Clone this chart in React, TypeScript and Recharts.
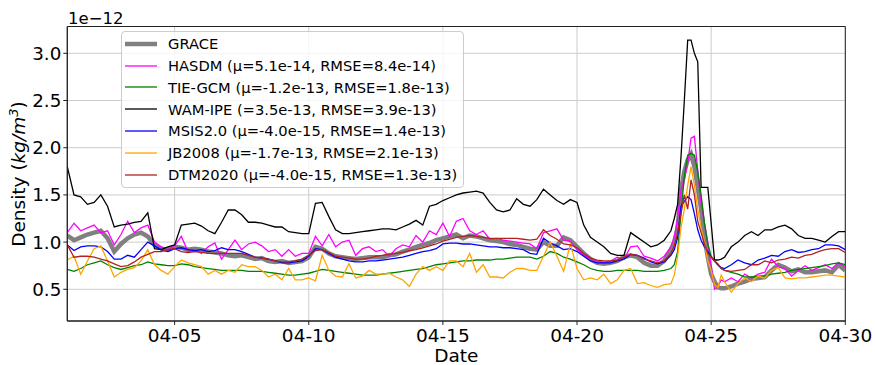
import React from 'react';
import {
  LineChart,
  Line,
  XAxis,
  YAxis,
  CartesianGrid,
  Legend,
  Label,
  ReferenceArea
} from 'recharts';

// time in days since 04-01 00:00 (finer steps around the storm peak)
const days = [
  0, 0.25, 0.5, 0.75, 1, 1.25, 1.5, 1.75, 2, 2.25, 2.5, 2.75, 3, 3.25, 3.5, 3.75, 4, 4.25, 4.5, 4.75, 5, 5.25, 5.5, 5.75, 6,
  6.25, 6.5, 6.75, 7, 7.25, 7.5, 7.75, 8, 8.25, 8.5, 8.75, 9, 9.25, 9.5, 9.75, 10, 10.25, 10.5, 10.75, 11, 11.25, 11.5, 11.75, 12,
  12.25, 12.5, 12.75, 13, 13.25, 13.5, 13.75, 14, 14.25, 14.5, 14.75, 15, 15.25, 15.5, 15.75, 16, 16.25, 16.5, 16.75, 17, 17.25, 17.5, 17.75, 18,
  18.25, 18.5, 18.75, 19, 19.25, 19.5, 19.75, 20, 20.25, 20.5, 20.75, 21, 21.25, 21.5, 21.75, 22, 22.25, 22.5,
  22.625, 22.75, 22.875, 23, 23.125, 23.25, 23.375, 23.5, 23.625, 23.75, 23.875, 24, 24.125, 24.25, 24.375, 24.5,
  24.75, 25, 25.25, 25.5, 25.75, 26, 26.25, 26.5, 26.75, 27, 27.25, 27.5, 27.75, 28, 28.25, 28.5, 28.75, 29
];

// density, units of 1e-12 kg/m^3
const grace = [
  1.07, 1.02, 1.05, 1.08, 1.10, 1.12, 1.04, 0.90, 0.98, 1.04, 1.08, 1.10, 1.06, 0.97, 0.93, 0.92, 0.95, 0.94, 0.92, 0.93, 0.92, 0.90, 0.89, 0.88, 0.86,
  0.85, 0.86, 0.84, 0.82, 0.83, 0.80, 0.79, 0.80, 0.78, 0.79, 0.80, 0.84, 0.95, 0.93, 0.88, 0.85, 0.84, 0.83, 0.82, 0.83, 0.84, 0.84, 0.84, 0.86,
  0.87, 0.90, 0.92, 0.95, 0.97, 0.99, 1.02, 1.04, 1.06, 1.08, 1.04, 1.07, 1.06, 1.04, 1.02, 1.01, 1.00, 0.98, 0.97, 0.95, 0.93, 0.92, 1.00, 0.96,
  0.96, 1.05, 1.02, 0.95, 0.88, 0.82, 0.78, 0.77, 0.78, 0.80, 0.84, 0.86, 0.84, 0.78, 0.75, 0.75, 0.80, 0.92,
  1.00, 1.15, 1.55, 1.75, 1.87, 1.93, 1.80, 1.58, 1.35, 1.05, 0.84, 0.66, 0.58, 0.52, 0.51, 0.51,
  0.53, 0.56, 0.58, 0.61, 0.62, 0.63, 0.70, 0.76, 0.73, 0.69, 0.71, 0.68, 0.68, 0.69, 0.70, 0.68, 0.76, 0.70
];

const hasdm = [
  1.10, 1.20, 1.12, 1.15, 1.18, 1.10, 1.12, 0.97, 1.08, 1.22, 1.10, 1.15, 1.18, 1.00, 0.95, 0.92, 0.96, 1.06, 0.90, 0.92, 0.88, 0.95, 0.99, 0.82, 0.92,
  1.02, 0.92, 0.98, 1.00, 0.96, 0.90, 0.92, 0.85, 0.92, 0.85, 0.88, 0.88, 1.06, 0.96, 1.08, 0.95, 1.00, 1.02, 0.86, 0.93, 0.95, 0.90, 0.92, 0.85,
  0.93, 0.97, 0.95, 1.07, 1.00, 1.12, 1.08, 1.20, 1.06, 1.22, 1.25, 1.12, 1.08, 1.12, 1.03, 1.04, 1.02, 1.01, 1.00, 0.99, 0.98, 0.93, 1.10, 1.12,
  1.14, 1.02, 1.01, 0.92, 0.86, 0.82, 0.80, 0.78, 0.80, 0.84, 0.82, 0.95, 0.96, 0.85, 0.83, 0.80, 0.85, 0.95,
  1.05, 1.25, 1.55, 1.66, 1.84, 2.10, 2.12, 1.76, 1.41, 1.20, 1.00, 0.75, 0.50, 0.53, 0.60, 0.58,
  0.62, 0.58, 0.66, 0.62, 0.66, 0.68, 0.82, 0.74, 0.72, 0.64, 0.70, 0.75, 0.70, 0.73, 0.76, 0.72, 0.78, 0.74
];

const tiegcm = [
  0.71, 0.69, 0.72, 0.76, 0.78, 0.80, 0.76, 0.73, 0.71, 0.73, 0.75, 0.76, 0.79, 0.77, 0.76, 0.75, 0.75, 0.77, 0.76, 0.74, 0.73, 0.72, 0.71, 0.70, 0.70,
  0.70, 0.70, 0.69, 0.69, 0.69, 0.68, 0.67, 0.66, 0.65, 0.65, 0.66, 0.67, 0.69, 0.71, 0.70, 0.69, 0.68, 0.67, 0.66, 0.65, 0.65, 0.65, 0.66, 0.67,
  0.68, 0.69, 0.70, 0.71, 0.72, 0.74, 0.76, 0.77, 0.78, 0.79, 0.80, 0.80, 0.81, 0.81, 0.81, 0.82, 0.82, 0.83, 0.84, 0.84, 0.84, 0.82, 0.85, 0.90,
  0.88, 0.84, 0.82, 0.79, 0.76, 0.72, 0.70, 0.69, 0.69, 0.70, 0.70, 0.70, 0.70, 0.69, 0.69, 0.69, 0.70, 0.72,
  0.76, 0.90, 1.30, 1.70, 1.92, 1.94, 1.92, 1.75, 1.50, 1.20, 0.98, 0.85, 0.80, 0.76, 0.72, 0.70,
  0.68, 0.66, 0.63, 0.63, 0.64, 0.64, 0.66, 0.67, 0.68, 0.70, 0.71, 0.72, 0.73, 0.74, 0.75, 0.77, 0.78, 0.76
];

const wamipe = [
  1.80, 1.50, 1.48, 1.40, 1.42, 1.50, 1.38, 1.16, 1.18, 1.19, 1.21, 1.22, 1.31, 0.93, 0.92, 0.95, 0.97, 1.18, 1.19, 1.20, 1.17, 1.12, 1.09, 1.21, 1.34,
  1.34, 1.29, 1.21, 1.21, 1.20, 1.18, 1.16, 1.16, 1.11, 1.10, 1.09, 1.09, 1.41, 1.42, 1.27, 1.13, 1.09, 1.09, 1.10, 1.11, 1.12, 1.13, 1.14, 1.14,
  1.13, 1.16, 1.19, 1.23, 1.18, 1.38, 1.40, 1.44, 1.47, 1.50, 1.52, 1.53, 1.54, 1.52, 1.42, 1.34, 1.32, 1.34, 1.46, 1.40, 1.38, 1.45, 1.56, 1.50,
  1.44, 1.40, 1.45, 1.42, 1.18, 1.05, 1.00, 0.95, 0.88, 0.86, 0.86, 1.10, 1.05, 1.00, 0.95, 0.97, 1.02, 1.12,
  1.25, 1.40, 1.90, 2.50, 3.14, 3.14, 3.00, 2.91, 1.58, 1.58, 1.58, 1.20, 0.81, 0.81, 0.82, 0.84,
  0.95, 1.00, 1.07, 1.11, 1.07, 1.13, 1.13, 1.16, 1.18, 1.14, 1.07, 1.04, 1.04, 1.02, 1.00, 1.06, 1.11, 1.11
];

const msis = [
  0.97, 0.91, 0.95, 0.96, 0.96, 0.95, 0.90, 0.82, 0.82, 0.86, 0.84, 0.92, 1.00, 0.96, 0.92, 0.90, 0.93, 0.94, 0.92, 0.91, 0.92, 0.90, 0.91, 0.94, 0.92,
  0.92, 0.90, 0.87, 0.84, 0.83, 0.82, 0.80, 0.78, 0.78, 0.79, 0.80, 0.85, 0.93, 0.92, 0.88, 0.84, 0.82, 0.80, 0.79, 0.79, 0.80, 0.80, 0.81, 0.82,
  0.83, 0.84, 0.86, 0.88, 0.90, 0.91, 0.93, 0.98, 0.99, 0.99, 0.98, 0.98, 0.97, 0.96, 0.95, 0.95, 0.94, 0.94, 0.93, 0.92, 0.88, 0.87, 1.04, 0.99,
  0.96, 0.92, 0.93, 0.90, 0.85, 0.80, 0.78, 0.78, 0.78, 0.80, 0.82, 0.87, 0.86, 0.83, 0.79, 0.77, 0.79, 0.86,
  0.92, 1.05, 1.38, 1.43, 1.48, 1.45, 1.30, 1.13, 1.02, 0.95, 0.90, 0.84, 0.80, 0.76, 0.73, 0.72,
  0.76, 0.81, 0.78, 0.76, 0.81, 0.83, 0.86, 0.85, 0.90, 0.92, 0.89, 0.90, 0.92, 0.93, 0.97, 0.97, 0.96, 0.92
];

const jb2008 = [
  0.81, 0.85, 0.66, 0.80, 0.93, 0.96, 0.80, 0.63, 0.68, 0.71, 0.73, 0.80, 0.92, 0.76, 0.70, 0.66, 0.74, 0.81, 0.78, 0.76, 0.74, 0.66, 0.70, 0.66, 0.70,
  0.68, 0.76, 0.74, 0.74, 0.70, 0.63, 0.66, 0.60, 0.72, 0.60, 0.60, 0.62, 0.59, 0.86, 0.70, 0.64, 0.63, 0.77, 0.62, 0.64, 0.70, 0.66, 0.66, 0.67,
  0.63, 0.60, 0.53, 0.66, 0.74, 0.70, 0.74, 0.70, 0.80, 0.80, 0.74, 0.88, 0.68, 0.76, 0.63, 0.63, 0.62, 0.68, 0.72, 0.72, 0.70, 0.70, 0.85, 1.00,
  0.85, 0.69, 0.98, 0.72, 0.60, 0.62, 0.60, 0.66, 0.56, 0.60, 0.70, 0.72, 0.56, 0.57, 0.54, 0.52, 0.55, 0.56,
  0.65, 0.85, 1.15, 1.35, 1.60, 1.80, 1.60, 1.35, 1.15, 1.00, 0.80, 0.70, 0.55, 0.52, 0.65, 0.58,
  0.47, 0.56, 0.62, 0.58, 0.64, 0.62, 0.70, 0.73, 0.62, 0.61, 0.62, 0.62, 0.63, 0.64, 0.65, 0.65, 0.64, 0.63
];

const dtm2020 = [
  0.97, 0.84, 0.85, 0.85, 0.84, 0.82, 0.80, 0.77, 0.74, 0.75, 0.79, 0.84, 0.87, 0.90, 0.90, 0.92, 0.93, 0.90, 0.89, 0.90, 0.89, 0.88, 0.88, 0.88, 0.88,
  0.88, 0.88, 0.86, 0.84, 0.83, 0.82, 0.80, 0.79, 0.79, 0.80, 0.82, 0.86, 0.91, 0.92, 0.89, 0.85, 0.84, 0.83, 0.82, 0.82, 0.83, 0.85, 0.86, 0.87,
  0.88, 0.89, 0.91, 0.92, 0.94, 0.96, 0.98, 1.01, 1.03, 1.05, 1.06, 1.07, 1.06, 1.05, 1.04, 1.04, 1.04, 1.04, 1.04, 1.03, 1.02, 1.03, 1.13, 1.07,
  1.03, 0.98, 0.97, 0.94, 0.88, 0.83, 0.81, 0.80, 0.80, 0.81, 0.84, 0.87, 0.86, 0.82, 0.80, 0.78, 0.80, 0.88,
  0.96, 1.10, 1.30, 1.50, 1.35, 1.66, 1.50, 1.22, 1.10, 0.98, 0.88, 0.84, 0.80, 0.77, 0.72, 0.70,
  0.69, 0.70, 0.71, 0.76, 0.76, 0.80, 0.78, 0.81, 0.82, 0.84, 0.83, 0.86, 0.87, 0.90, 0.92, 0.93, 0.93, 0.89
];

const xTicks = [4, 9, 14, 19, 24, 29];
const xTickLabels = ['04-05', '04-10', '04-15', '04-20', '04-25', '04-30'];
const yTicks = [0.5, 1.0, 1.5, 2.0, 2.5, 3.0];

const FONT = '"DejaVu Sans", sans-serif';

const seriesList = [
  { key: 'grace', name: 'GRACE', color: '#808080', width: 4.5 },
  { key: 'hasdm', name: 'HASDM (μ=5.1e-14, RMSE=8.4e-14)', color: '#ff00ff', width: 1.3 },
  { key: 'tiegcm', name: 'TIE-GCM (μ=-1.2e-13, RMSE=1.8e-13)', color: '#008000', width: 1.3 },
  { key: 'wamipe', name: 'WAM-IPE (=3.5e-13, RMSE=3.9e-13)', color: '#000000', width: 1.3 },
  { key: 'msis', name: 'MSIS2.0 (μ=-4.0e-15, RMSE=1.4e-13)', color: '#0000ff', width: 1.3 },
  { key: 'jb2008', name: 'JB2008 (μ=-1.7e-13, RMSE=2.1e-13)', color: '#ffa500', width: 1.3 },
  { key: 'dtm2020', name: 'DTM2020 (μ=-4.0e-15, RMSE=1.3e-13)', color: '#b22222', width: 1.3 }
];

const chartData = days.map((t, i) => ({
  t,
  grace: grace[i],
  hasdm: hasdm[i],
  tiegcm: tiegcm[i],
  wamipe: wamipe[i],
  msis: msis[i],
  jb2008: jb2008[i],
  dtm2020: dtm2020[i]
}));

const renderLegend = () => (
  <div
    style={{
      position: 'relative',
      width: 343,
      height: 157,
      boxSizing: 'border-box',
      background: 'rgba(255,255,255,0.8)',
      border: '1px solid #cccccc',
      borderRadius: 4,
      fontFamily: FONT,
      fontSize: 14.7,
      color: '#000'
    }}
  >
    {seriesList.map((s, i) => (
      <div
        key={s.key}
        style={{
          position: 'absolute',
          left: 3,
          top: 0.7 + i * 21.8,
          height: 22,
          display: 'flex',
          alignItems: 'center',
          whiteSpace: 'nowrap'
        }}
      >
        <svg width={32} height={22} style={{ display: 'block' }}>
          <line x1={0} y1={11} x2={32} y2={11} stroke={s.color} strokeWidth={s.width} />
        </svg>
        <span style={{ marginLeft: 11 }}>{s.name}</span>
      </div>
    ))}
  </div>
);

const renderYLabel = () => (
  <text transform="translate(25,174) rotate(-90)" textAnchor="middle" fontSize={18.5} fontFamily={FONT} fill="#000">
    Density (<tspan fontStyle="italic">kg/m</tspan>
    <tspan fontStyle="italic" fontSize={13} dy={-7}>3</tspan>
    <tspan dy={7}>)</tspan>
  </text>
);

const renderOffset = () => (
  <text x={68} y={24} fontSize={16.5} fontFamily={FONT} fill="#000">
    1e−12
  </text>
);

const App: React.FC = () => {
  return (
    <div style={{ position: 'absolute', left: 0, top: 0, width: 876, height: 365, background: '#fff' }}>
      <LineChart
        width={876}
        height={365}
        data={chartData}
        margin={{ top: 26.5, right: 30.7, left: 0, bottom: 0 }}
        style={{ fontFamily: FONT }}
      >
        <CartesianGrid stroke="#cccccc" strokeWidth={1} />
        <XAxis
          type="number"
          dataKey="t"
          domain={[0, 29]}
          ticks={xTicks}
          tickFormatter={(v: number) => xTickLabels[xTicks.indexOf(v)]}
          allowDataOverflow
          height={44}
          tickSize={4}
          tickMargin={4}
          axisLine={{ stroke: '#222' }}
          tickLine={{ stroke: '#222' }}
          tick={{ fontSize: 18.5, fill: '#000', fontFamily: FONT }}
        >
          <Label value="Date" position="insideBottom" offset={3} fontSize={18.5} fill="#000" fontFamily={FONT} />
        </XAxis>
        <YAxis
          type="number"
          domain={[0.164, 3.284]}
          ticks={yTicks}
          tickFormatter={(v: number) => v.toFixed(1)}
          allowDataOverflow
          width={67.3}
          tickSize={4}
          tickMargin={2}
          axisLine={{ stroke: '#222' }}
          tickLine={{ stroke: '#222' }}
          tick={{ fontSize: 18.3, fill: '#000', fontFamily: FONT }}
        >
          <Label content={renderYLabel} />
          <Label content={renderOffset} />
        </YAxis>
        <ReferenceArea
          x1={0}
          x2={29}
          y1={0.164}
          y2={3.284}
          fill="none"
          fillOpacity={0}
          stroke="#222"
          strokeWidth={1}
          ifOverflow="visible"
        />
        {seriesList.map((s) => (
          <Line
            key={s.key}
            type="linear"
            dataKey={s.key}
            name={s.name}
            stroke={s.color}
            strokeWidth={s.width}
            dot={false}
            activeDot={false}
            isAnimationActive={false}
          />
        ))}
        <Legend
          layout="vertical"
          align="center"
          verticalAlign="middle"
          wrapperStyle={{ top: 31, left: 121, width: 343, height: 157 }}
          content={renderLegend}
        />
      </LineChart>
    </div>
  );
};

export default App;
